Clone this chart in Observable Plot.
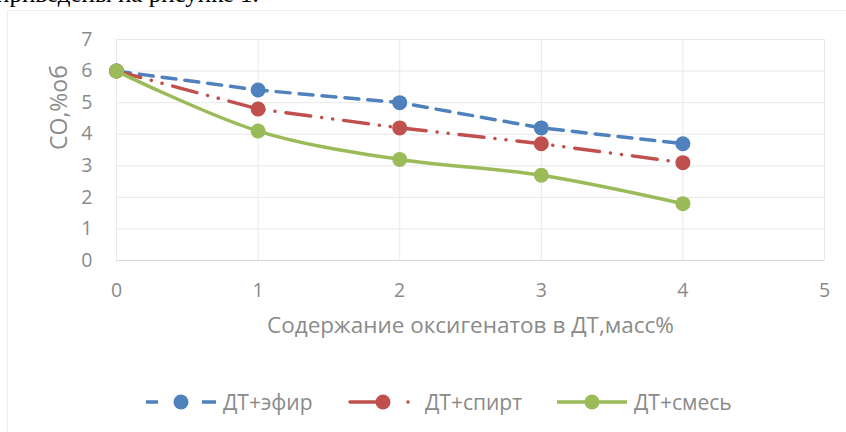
<!DOCTYPE html>
<html><head><meta charset="utf-8">
<script src="https://cdn.jsdelivr.net/npm/d3@7"></script>
<script src="https://cdn.jsdelivr.net/npm/@observablehq/plot@0.6"></script>
<style>
body{margin:0;background:#fff;}
#wrap{position:relative;width:846px;height:432px;overflow:hidden;font-family:"Open Sans",sans-serif;}
#top{position:absolute;left:-4px;top:-18px;font-family:"Liberation Serif",serif;font-size:25px;line-height:24px;color:#000;white-space:nowrap;}
#frame{position:absolute;left:7px;top:10px;width:860px;height:440px;border:1px solid #eeeeee;box-sizing:border-box;}
#chart{position:absolute;left:0;top:0;}
.leg{position:absolute;top:388px;height:28px;display:flex;align-items:center;font-size:21px;color:#8a8a8a;white-space:nowrap;}
.leg svg{margin-right:7px;}
</style></head>
<body>
<div id="wrap">
  <div id="top">приведены на рисунке 1.</div>
  <div id="frame"></div>
  <div id="chart"></div>
  <div id="legend"></div>
</div>
<script>
const xs = [0, 1, 2, 3, 4];
const efir = [6, 5.4, 5.0, 4.2, 3.7];
const spirt = [6, 4.8, 4.2, 3.7, 3.1];
const smes = [6, 4.1, 3.2, 2.7, 1.8];
const seriesNames = ["ДТ+эфир", "ДТ+спирт", "ДТ+смесь"];
const seriesColors = ["#4f81bd", "#c0504d", "#9bbb59"];
const seriesDash = ["14,9", "25,11,0.1,11,0.1,11", null];
const xTicks = [0, 1, 2, 3, 4, 5];
const yTicks = [0, 1, 2, 3, 4, 5, 6, 7];
const xTitle = "Содержание оксигенатов в ДТ,масс%";
const yTitle = "CO,%об";
const legendLeft = [146, 348, 557];

const allValues = [efir, spirt, smes];
const series = allValues.map((vals, i) => xs.map((x, j) => ({x, y: vals[j], s: seriesNames[i]})));

const marks = [
  Plot.gridY(yTicks, {stroke: "#e9e9e9", strokeOpacity: 1, strokeWidth: 1}),
  Plot.gridX(xTicks, {stroke: "#e9e9e9", strokeOpacity: 1, strokeWidth: 1}),
  Plot.ruleY([0], {stroke: "#d9d9d9", strokeWidth: 1}),
  Plot.axisX({ticks: xTicks, tickSize: 0, tickPadding: 23, fontSize: 19.5, label: null, tickFormat: d => String(d)}),
  Plot.axisY({ticks: yTicks, tickSize: 0, tickPadding: 24, fontSize: 19.5, label: null, tickFormat: d => String(d)}),
  Plot.text([yTitle], {text: d => d, frameAnchor: "left", dx: -57, rotate: -90, fontSize: 23, fill: "#8a8a8a"}),
  Plot.text([xTitle], {text: d => d, frameAnchor: "bottom", dy: 72, fontSize: 22.5, fill: "#8a8a8a"})
];
series.forEach((rows, i) => {
  const opts = {x: "x", y: "y", stroke: seriesColors[i], strokeWidth: 3.5};
  if (seriesDash[i]) opts.strokeDasharray = seriesDash[i];
  if (i === 1) opts.strokeLinecap = "round";
  if (i === 2) opts.curve = "catmull-rom";
  marks.push(Plot.line(rows, opts));
  marks.push(Plot.dot(rows, {x: "x", y: "y", r: 7.5, fill: seriesColors[i], stroke: "none"}));
});

const chart = Plot.plot({
  width: 846,
  height: 360,
  marginLeft: 116,
  marginRight: 22,
  marginTop: 39,
  marginBottom: 100,
  x: {domain: [0, 5]},
  y: {domain: [0, 7]},
  style: {color: "#8a8a8a", fontFamily: "'Open Sans', sans-serif", background: "transparent"},
  marks
});
document.getElementById("chart").appendChild(chart);

const legend = document.getElementById("legend");
seriesNames.forEach((name, i) => {
  const item = document.createElement("div");
  item.className = "leg";
  item.style.left = legendLeft[i] + "px";
  const c = seriesColors[i];
  let sw = "";
  if (i === 0) {
    sw = `<line x1="0" y1="10" x2="12" y2="10" stroke="${c}" stroke-width="3.5"/>` +
         `<line x1="56" y1="10" x2="70" y2="10" stroke="${c}" stroke-width="3.5"/>`;
  } else if (i === 1) {
    sw = `<line x1="2" y1="10" x2="36" y2="10" stroke="${c}" stroke-width="3.5" stroke-linecap="round"/>` +
         `<circle cx="60" cy="10" r="1.8" fill="${c}"/>`;
  } else {
    sw = `<line x1="0" y1="10" x2="70" y2="10" stroke="${c}" stroke-width="3.5"/>`;
  }
  item.innerHTML = `<svg width="70" height="20">${sw}<circle cx="35" cy="10" r="7.5" fill="${c}"/></svg><span>${name}</span>`;
  legend.appendChild(item);
});
</script>
</body></html>
